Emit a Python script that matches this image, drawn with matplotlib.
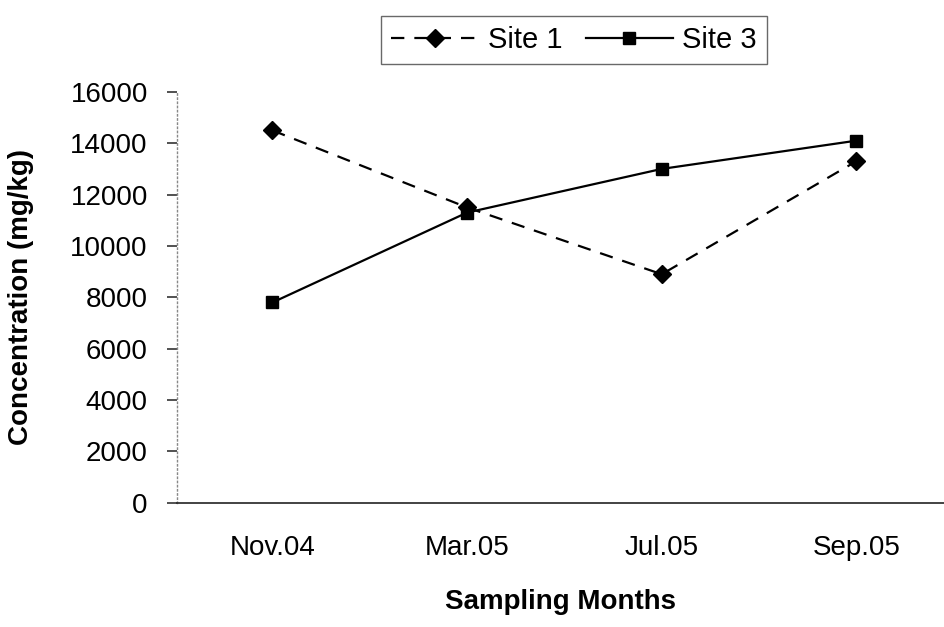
import matplotlib
matplotlib.use("Agg")
import matplotlib.pyplot as plt

plt.rcParams['font.family'] = ['Liberation Sans', 'DejaVu Sans']

months = ['Nov.04', 'Mar.05', 'Jul.05', 'Sep.05']
site1 = [14500, 11500, 8900, 13300]
site3 = [7800, 11300, 13000, 14100]
yticks = [0, 2000, 4000, 6000, 8000, 10000, 12000, 14000, 16000]

fig = plt.figure(figsize=(9.44, 6.27), dpi=100)
ax = fig.add_axes([0.1875, 0.198, 0.8125, 0.6555])

x = range(len(months))
l1, = ax.plot(x, site1, color='black', linestyle=(0, (6, 4.5)), linewidth=1.6,
              marker='D', markersize=9, label='Site 1')
l3, = ax.plot(x, site3, color='black', linestyle='-', linewidth=1.6,
              marker='s', markersize=9, label='Site 3')

ax.set_xlim(-0.49, 3.45)
ax.set_ylim(0, 16000)
ax.set_yticks(yticks)
ax.set_xticks(list(x))
ax.set_xticklabels(months)

# axis lines: dotted grey on the left, solid along the bottom
for s in ['top', 'right']:
    ax.spines[s].set_visible(False)
ax.spines['left'].set_color('#888888')
ax.spines['left'].set_linestyle((0, (1, 2)))
ax.spines['left'].set_linewidth(1.0)
ax.spines['bottom'].set_color('#222222')
ax.spines['bottom'].set_linewidth(1.2)

ax.tick_params(axis='y', length=7, width=1.2, pad=14, labelsize=20, color='#333333')
ax.tick_params(axis='x', length=0, pad=23, labelsize=20)

ax.set_xlabel('Sampling Months', fontsize=20, fontweight='bold', labelpad=20)
ax.set_ylabel('Concentration (mg/kg)', fontsize=20, fontweight='bold', labelpad=26)

leg = fig.legend(handles=[l1, l3], loc='center', bbox_to_anchor=(0.608, 0.936),
                 ncol=2, fontsize=21, frameon=True, fancybox=False,
                 handlelength=3.0, handletextpad=0.3, columnspacing=0.8,
                 borderpad=0.35)
leg.get_frame().set_edgecolor('#444444')
leg.get_frame().set_linewidth(1.0)

fig.savefig('out.png', dpi=100)
